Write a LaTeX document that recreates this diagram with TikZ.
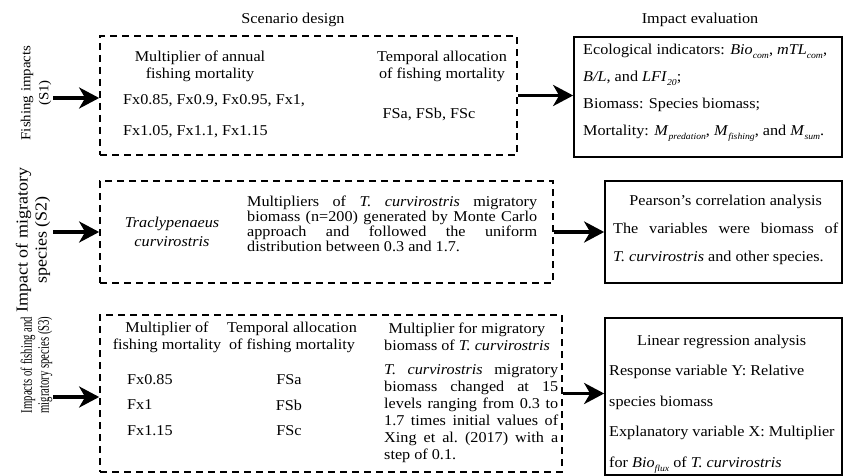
\documentclass[tikz,border=0pt]{standalone}
\usepackage{fontspec}
\setmainfont{Liberation Serif}[FakeStretch=1.08]
\usepackage{tikz}
\usetikzlibrary{arrows.meta}

\newcommand{\sbs}[1]{\raisebox{-0.3em}{\fontsize{9}{9}\selectfont\textit{#1}}}
\newcommand{\Tc}{\textit{T. curvirostris}}

\begin{document}
\begin{tikzpicture}[x=1pt, y=-1pt,
	every node/.style={inner sep=0pt, font=\fontsize{15}{17}\selectfont},
	dashbox/.style={draw, line width=1.7pt, dash pattern=on 7pt off 5pt},
	solidbox/.style={draw, line width=1.7pt},
	bigarrow/.style={line width=3.8pt, -{Stealth[length=20pt, width=21pt, inset=6pt]}}]
\useasboundingbox (0,0) rectangle (843,476);

\node (hd1) at (293,20) {Scenario design};
\node (hd2) at (700,20) {Impact evaluation};

% boxes
\node[dashbox, minimum width=417pt, minimum height=119pt] (s1) at (308.5,95.5) {};
\node[solidbox, minimum width=268pt, minimum height=120pt] (e1) at (708,97) {};
\node[dashbox, minimum width=453pt, minimum height=102pt] (s2) at (326.5,232) {};
\node[solidbox, minimum width=237pt, minimum height=102pt] (e2) at (723.5,232) {};
\node[dashbox, minimum width=462pt, minimum height=157pt] (s3) at (331,393.5) {};
\node[solidbox, minimum width=237pt, minimum height=157pt] (e3) at (723.5,396.5) {};

% scenario labels
\node[rotate=90, align=center, font=\fontsize{13.8}{18}\selectfont] (lb1) at (36,93) {Fishing impacts\\(S1)};
\node[rotate=90, align=center, font=\fontsize{16.7}{19}\selectfont] (lb2) at (33,240) {Impact of migratory\\species (S2)};
\node[rotate=90, font=\fontsize{16}{17}\selectfont] (lb3) at (37,365) {\scalebox{0.62}[1]{\begin{tabular}{@{}c@{}}Impacts of fishing and\\migratory species (S3)\end{tabular}}};
\coordinate (a1) at (53,98);
\coordinate (a2) at (53,232);
\coordinate (a3) at (53,397);

% S1
\node[align=center] (m1) at (200,66) {Multiplier of annual\\fishing mortality};
\node[anchor=west] (v1) at (123,101) {Fx0.85, Fx0.9, Fx0.95, Fx1,};
\node[anchor=west] (v2) at (123,132) {Fx1.05, Fx1.1, Fx1.15};
\node[align=center] (t1) at (442,66) {Temporal allocation\\of fishing mortality};
\node (f1) at (429,114) {FSa, FSb, FSc};
\node[anchor=west, align=left, font=\fontsize{15}{27}\selectfont] (ev1) at (583,93) {Ecological indicators: \textit{Bio}\sbs{com}, \textit{mTL}\sbs{com},\\
	\textit{B/L}, and \textit{LFI}\sbs{20};\\
	Biomass: Species biomass;\\
	Mortality: \textit{M}\sbs{predation}, \textit{M}\sbs{fishing}, and \textit{M}\sbs{sum}.};

% S2
\node[align=center, font=\fontsize{15}{19}\selectfont\itshape] (sp) at (172,232) {Traclypenaeus\\curvirostris};
\node[anchor=west, align=left, font=\fontsize{15}{15}\selectfont] (pa2) at (247,224) {\makebox[290pt][s]{Multipliers of \Tc{} migratory}\\
	\makebox[290pt][s]{biomass (n=200) generated by Monte Carlo}\\
	\makebox[290pt][s]{approach and followed the uniform}\\
	distribution between 0.3 and 1.7.};
\node[anchor=west, align=left, font=\fontsize{15}{28}\selectfont] (ev2) at (613,230) {\makebox[225pt]{Pearson's correlation analysis}\\
	\makebox[225pt][s]{The variables were biomass of}\\
	\Tc{} and other species.};

% S3
\node[align=center] (m3) at (167,337) {Multiplier of\\fishing mortality};
\node[align=center] (t3) at (292,337) {Temporal allocation\\of fishing mortality};
\foreach \fx/\fs [count=\i] in {Fx0.85/FSa, Fx1/FSb, Fx1.15/FSc} {
	\node[anchor=west] (x\i) at (127,354+25.5*\i) {\fx};
	\node (q\i) at (289,354+25.5*\i) {\fs};
}
\node[align=center] (m4) at (467,337) {Multiplier for migratory\\biomass of \Tc};
\node[anchor=west, align=left] (pa3) at (384,414) {\makebox[174pt][s]{\Tc{} migratory}\\
	\makebox[174pt][s]{biomass changed at 15}\\
	\makebox[174pt][s]{levels ranging from 0.3 to}\\
	\makebox[174pt][s]{1.7 times initial values of}\\
	\makebox[174pt][s]{Xing et al.\ (2017) with a}\\
	step of 0.1.};
\node[anchor=west, align=left, font=\fontsize{15}{30.5}\selectfont] (ev3) at (609,404) {\makebox[225pt]{Linear regression analysis}\\
	Response variable Y: Relative\\
	species biomass\\
	Explanatory variable X: Multiplier\\
	for \textit{Bio}\sbs{flux} of \Tc};

% connectors
\draw[bigarrow] (a1) -- (a1 -| s1.west);
\draw[bigarrow] (a2) -- (a2 -| s2.west);
\draw[bigarrow] (a3) -- (a3 -| s3.west);
\draw[bigarrow] (s1.east) -- (s1.east -| e1.west);
\draw[bigarrow] (s2.east) -- (s2.east -| e2.west);
\draw[bigarrow] (s3.east) -- (s3.east -| e3.west);
\end{tikzpicture}
\end{document}
